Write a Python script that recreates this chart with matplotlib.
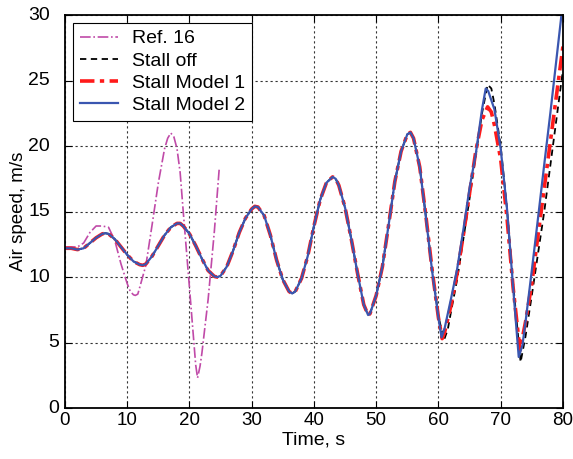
import numpy as np
import matplotlib
matplotlib.use("Agg")
import matplotlib.pyplot as plt

plt.rcParams["font.family"] = ["Liberation Sans", "DejaVu Sans"]

# Ref. 16 (only up to 25 s)
t_ref16 = [0, 1, 2, 3, 4, 5, 6, 7, 8, 9, 10, 10.5, 11, 11.3, 11.7, 12, 13, 14, 15, 16,
           16.5, 17, 17.5, 18, 18.5, 19, 20, 21, 21.3, 21.7, 22, 23, 24, 24.8]
v_ref16 = [12.3, 12.3, 12.3, 12.6, 13.4, 13.9, 13.9, 13.8, 12.8, 11.0, 9.5, 8.9, 8.65, 8.6, 8.7, 9.2,
           10.9, 14.0, 17.2, 19.8, 20.6, 21.0, 20.7, 19.8, 18.0, 15.0, 9.2, 3.3, 2.3, 3.2,
           4.2, 8.3, 13.5, 18.4]

# common part of the three simulations (curves overlap up to ~57 s)
t_common = [0, 1, 2, 3, 4, 5, 6, 6.5, 7, 8, 9, 10, 11, 12, 12.5, 13, 14, 15, 16, 17, 18, 18.5,
            19, 20, 21, 22, 23, 24, 24.5, 25, 26, 27, 28, 29, 30, 30.5, 31, 32, 33, 34, 35, 36,
            36.5, 37, 38, 39, 40, 41, 42, 43, 43.5, 44, 45, 46, 47, 48, 48.7, 49, 50, 51, 52,
            53, 54, 55, 55.5, 56, 57]
v_common = [12.2, 12.2, 12.1, 12.2, 12.6, 13.0, 13.3, 13.35, 13.3, 12.9, 12.3, 11.7, 11.2, 10.95,
            10.9, 11.0, 11.6, 12.4, 13.2, 13.8, 14.1, 14.1, 13.9, 13.3, 12.4, 11.4, 10.5, 10.05,
            10.0, 10.1, 10.8, 12.0, 13.4, 14.5, 15.2, 15.4, 15.35, 14.7, 13.2, 11.3, 9.8, 8.9,
            8.75, 8.9, 9.9, 11.6, 13.9, 15.9, 17.2, 17.65, 17.5, 17.0, 15.3, 12.9, 10.3, 7.9,
            7.1, 7.2, 8.6, 10.8, 14.0, 17.3, 19.6, 20.9, 21.05, 20.6, 18.4]

# tails after 57 s
t_off = [58, 59, 60, 60.9, 61.5, 62, 63, 64, 65, 66, 67, 67.9, 68.5, 69, 70, 71, 72, 73.2,
         74, 75, 76, 77, 78, 79, 80]
v_off = [14.6, 10.6, 7.0, 5.2, 6.0, 7.3, 9.8, 12.9, 16.0, 19.3, 22.5, 24.7, 24.4, 23.2, 20.0,
         15.3, 9.5, 3.5, 5.5, 8.6, 11.8, 15.0, 18.6, 22.2, 25.8]

t_m1 = [58, 59, 60, 60.6, 61, 62, 63, 64, 65, 66, 67, 67.9, 68.5, 69, 70, 71, 72, 73.1, 74,
        75, 76, 77, 78, 79, 80]
v_m1 = [14.6, 10.5, 6.9, 5.3, 5.8, 7.8, 10.3, 13.2, 16.4, 19.6, 22.0, 23.0, 22.6, 21.6, 19.0,
        14.6, 9.2, 4.4, 6.6, 9.5, 13.2, 16.8, 20.4, 24.0, 27.6]

t_m2 = [58, 59, 60, 60.5, 61, 62, 63, 64, 65, 66, 67, 67.6, 68, 69, 70, 71, 72, 72.9, 73.5,
        74, 75, 76, 77, 78, 79, 80]
v_m2 = [14.5, 10.4, 6.9, 5.4, 6.1, 8.3, 10.6, 13.6, 16.8, 19.4, 22.8, 24.4, 24.2, 22.8, 19.8,
        15.3, 9.2, 3.9, 4.8, 6.6, 10.5, 14.5, 18.6, 22.6, 26.8, 31.0]

y_ticks = [0, 5, 10, 15, 20, 25, 30]
y_tick_labels = ["0", "5", "10", "15", "20", "25", "30"]

fig = plt.figure(figsize=(5.73, 4.59), dpi=100)
ax = fig.add_axes([0.1134, 0.111, 0.869, 0.856])

ax.plot(t_ref16, v_ref16, color="#C04AA8", linestyle="-.", linewidth=1.2, label="Ref. 16")
ax.plot(t_common + t_off, v_common + v_off, color="black", linestyle=(0, (3.5, 2.5)),
        linewidth=1.3, label="Stall off")
ax.plot(t_common + t_m1, v_common + v_m1, color="#FF1A1A", linestyle=(0, (4, 1.5, 1.2, 1.5)),
        linewidth=2.6, label="Stall Model 1")
ax.plot(t_common + t_m2, v_common + v_m2, color="#3A56B0", linestyle="-", linewidth=1.6,
        label="Stall Model 2")

ax.set_xlim(0, 80)
ax.set_ylim(0, 30)
ax.set_xticks(np.arange(0, 81, 10))
ax.set_yticks(y_ticks)
ax.set_yticklabels([])
ax.tick_params(direction="in", top=True, right=True, labelsize=13.5, length=5, width=0.8)
ax.tick_params(axis="x", pad=3)
ax.grid(True, color="0.2", linestyle=(0, (2, 2.5)), linewidth=0.8)
for s in ax.spines.values():
    s.set_linewidth(1.3)

# y tick labels as in the original (two-digit labels sit further left)
for v, lab in zip(y_ticks, y_tick_labels):
    off = -4.3 if len(lab) == 1 else -10.8
    ax.annotate(lab, xy=(0, v), xycoords=("axes fraction", "data"), xytext=(off, 0),
                textcoords="offset points", ha="right", va="center", fontsize=14)

ax.set_xlabel("Time, s", fontsize=14, labelpad=2)
ax.set_ylabel("Air speed, m/s", fontsize=13.5, labelpad=23.5)

leg = ax.legend(loc="upper left", fontsize=14, fancybox=False, framealpha=1,
                edgecolor="black", handlelength=2.0, handletextpad=0.7,
                borderaxespad=0.4, labelspacing=0.24, borderpad=0.35)
leg.get_frame().set_linewidth(0.8)

fig.savefig("out.png", dpi=100)
